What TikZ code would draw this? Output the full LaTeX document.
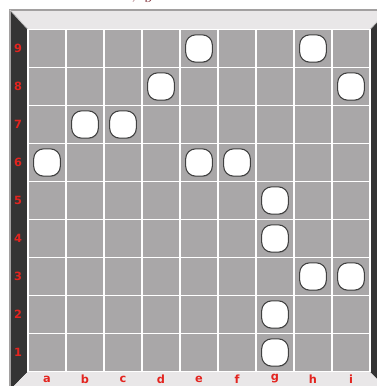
\documentclass[tikz,border=0pt]{standalone}
\usepackage{fontspec}
\newfontfamily\labelfont{DejaVu Sans}
\usetikzlibrary{shadows}
\definecolor{cellgrey}{HTML}{A9A7A8}
\definecolor{framelight}{HTML}{E9E7E8}
\definecolor{framedark}{HTML}{343434}
\definecolor{frameedge}{HTML}{A2A0A0}
\definecolor{labelred}{HTML}{E3241F}
\definecolor{titlered}{HTML}{7C2A33}
\tikzset{
  cell/.style={fill=cellgrey, draw=white, line width=1.3pt},
  piece/.style={rectangle, rounded corners=7.5pt, minimum width=20pt,
    minimum height=20.5pt, inner sep=0pt, fill=white, draw=black!75, line width=0.8pt,
    drop shadow={shadow xshift=0.4pt, shadow yshift=-0.6pt, opacity=0.45}},
  coordlabel/.style={font=\labelfont\bfseries\fontsize{8.5}{8.5}\selectfont, text=labelred, inner sep=0pt},
  caption/.style={font=\itshape\fontsize{15}{15}\selectfont, text=titlered, inner sep=0pt}
}
\begin{document}
\begin{tikzpicture}[x=0.75pt,y=-0.75pt]
  \useasboundingbox (0,0) rectangle (377,386);
  \clip (0,0) rectangle (377,386);
  % caption above the board, cut off by the page edge
  \node[caption, anchor=base west] (caption) at (131,-1.5) {, g};
  % bevelled frame
  \fill[framelight] (10,10) -- (388,10) -- (370,29.5) -- (28,29.5) -- cycle;
  \fill[framedark] (10,10) -- (28,29.5) -- (28,371.5) -- (10,390) -- cycle;
  \fill[framelight] (10,390) -- (28,371.5) -- (370,371.5) -- (388,390) -- cycle;
  \fill[framedark] (388,10) -- (370,29.5) -- (370,371.5) -- (388,390) -- cycle;
  \draw[frameedge, line width=0.8pt] (10,390) -- (10,10) -- (388,10);
  \draw[frameedge!60, line width=0.6pt] (10,10) -- (28,29.5) (370,29.5) -- (388,10);
  % board squares
  \foreach \i in {0,...,8}{\foreach \j in {0,...,8}{
    \draw[cell] (28+38*\i,29.5+38*\j) rectangle ++(38,38);}}
  % file and rank positions
  \coordinate (filerow) at (0,379);
  \coordinate (rankcol) at (18,0);
  \foreach \l [count=\i from 0] in {a,...,i}{
    \coordinate (col-\l) at (47+38*\i,0);}
  \foreach \r in {1,...,9}{
    \coordinate (row-\r) at (0,48.5+38*9-38*\r);}
  % labels
  \foreach \l in {a,...,i}{
    \node[coordlabel] (lbl-\l) at (col-\l |- filerow) {\l};}
  \foreach \r in {1,...,9}{
    \node[coordlabel] (lbl-\r) at (rankcol |- row-\r) {\r};}
  % pieces
  \foreach \l/\r in {e/9,h/9,d/8,i/8,b/7,c/7,a/6,e/6,f/6,g/5,g/4,h/3,i/3,g/2,g/1}{
    \node[piece] (pc-\l\r) at (col-\l |- row-\r) {};}
\end{tikzpicture}
\end{document}
